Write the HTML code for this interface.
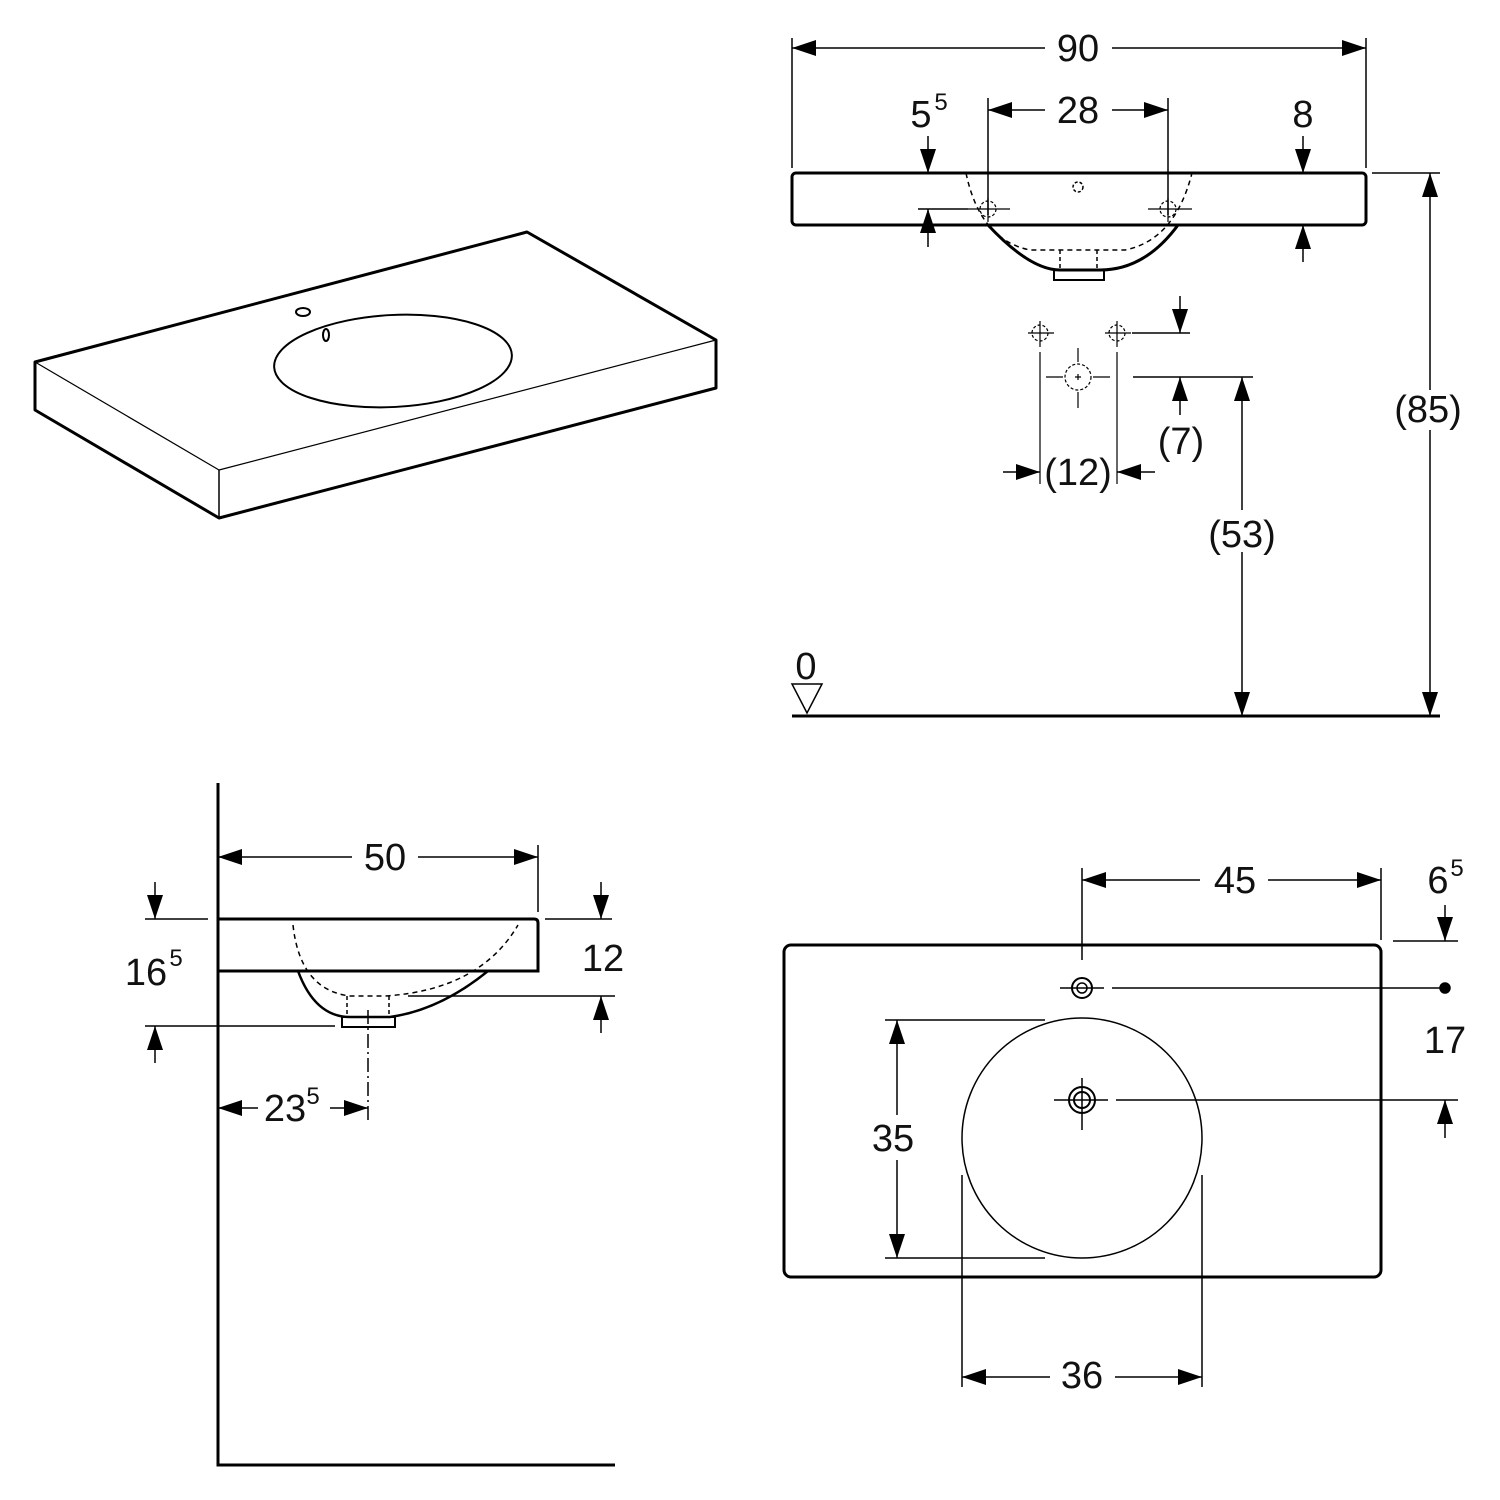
<!DOCTYPE html>
<html><head><meta charset="utf-8"><style>
html,body{margin:0;padding:0;background:#fff}
svg{display:block}
text{font-family:"Liberation Sans",sans-serif;font-size:38px;fill:#111;stroke:none;text-anchor:middle}
.sup{font-size:24px}
</style></head><body>
<svg width="1500" height="1500" viewBox="0 0 1500 1500" xmlns="http://www.w3.org/2000/svg">
<defs>
<marker id="a" markerUnits="userSpaceOnUse" markerWidth="24" markerHeight="16" refX="24" refY="8" orient="auto"><path d="M0,0 L24,8 L0,16 z" fill="#000" stroke="none"/></marker>
</defs>
<g stroke="#000" fill="none" stroke-width="1.5">

<!-- ISOMETRIC -->
<g stroke-width="3" stroke-linejoin="round">
<path d="M35,362 L527,232 L716,340 L716,388 L219,518 L35,410 Z" fill="#fff"/>
<path d="M219,470 L219,518" stroke-width="1.5"/>
<path d="M35,362 L219,470 L716,340" stroke-width="1.2"/>
<ellipse cx="393" cy="361" rx="119" ry="46" transform="rotate(-3 393 361)" stroke-width="2"/>
<ellipse cx="303" cy="312" rx="7" ry="4" stroke-width="2"/>
<ellipse cx="326" cy="335" rx="3" ry="6" stroke-width="2"/>
</g>

<!-- FRONT VIEW -->
<rect x="792" y="173" width="574" height="52" rx="4" stroke-width="3"/>
<path d="M988,225 Q1030,270 1060,270 L1100,270 Q1145,270 1178,225" stroke-width="3"/>
<rect x="1054" y="270" width="50" height="10" stroke-width="2"/>
<path d="M966,173 Q980,240 1030,250 L1125,250 Q1175,240 1192,173" stroke-dasharray="5,4"/>
<path d="M1060,250 L1060,270 M1097,250 L1097,270" stroke-dasharray="4,3"/>
<circle cx="1078" cy="187" r="5" stroke-dasharray="3,2"/>
<path d="M792,38 L792,168 M1366,38 L1366,168"/>
<path d="M1045,48 L792,48" marker-end="url(#a)"/><path d="M1112,48 L1366,48" marker-end="url(#a)"/>
<text x="1078" y="61">90</text>
<path d="M988,98 L988,215 M1168,98 L1168,215"/>
<path d="M1045,110 L988,110" marker-end="url(#a)"/><path d="M1112,110 L1168,110" marker-end="url(#a)"/>
<text x="1078" y="123">28</text>
<g stroke-width="1.2">
<path d="M968,209 L1010,209 M988,198 L988,222 M1148,209 L1192,209 M1168,198 L1168,222"/>
<circle cx="988" cy="209" r="8" stroke-dasharray="3,2"/><circle cx="1168" cy="209" r="8" stroke-dasharray="3,2"/>
</g>
<text x="921" y="127">5</text><text class="sup" x="941" y="110">5</text>
<path d="M928,136 L928,173" marker-end="url(#a)"/>
<path d="M928,247 L928,209" marker-end="url(#a)"/>
<path d="M918,209 L968,209"/>
<text x="1303" y="127">8</text>
<path d="M1303,136 L1303,173" marker-end="url(#a)"/>
<path d="M1303,262 L1303,225" marker-end="url(#a)"/>
<g stroke-width="1.2">
<path d="M1028,333 L1054,333 M1040,321 L1040,347 M1105,333 L1131,333 M1117,321 L1117,347"/>
<circle cx="1040" cy="333" r="8" stroke-dasharray="3,2"/><circle cx="1117" cy="333" r="8" stroke-dasharray="3,2"/>
<circle cx="1078" cy="377" r="13" stroke-dasharray="3,2"/>
<path d="M1078,348 L1078,362 M1078,392 L1078,408 M1046,377 L1063,377 M1093,377 L1110,377 M1075,377 L1081,377 M1078,374 L1078,380"/>
<path d="M1040,352 L1040,484 M1117,352 L1117,484"/>
</g>
<path d="M1180,296 L1180,333" marker-end="url(#a)"/>
<path d="M1132,333 L1190,333"/>
<path d="M1133,377 L1253,377"/>
<path d="M1180,415 L1180,377" marker-end="url(#a)"/>
<text x="1181" y="454">(7)</text>
<path d="M1003,472 L1040,472" marker-end="url(#a)"/>
<path d="M1155,472 L1117,472" marker-end="url(#a)"/>
<text x="1078" y="485">(12)</text>
<path d="M1242,510 L1242,377" marker-end="url(#a)"/>
<path d="M1242,552 L1242,716" marker-end="url(#a)"/>
<text x="1242" y="547">(53)</text>
<path d="M1372,173 L1440,173"/>
<path d="M1430,390 L1430,173" marker-end="url(#a)"/>
<path d="M1430,430 L1430,716" marker-end="url(#a)"/>
<text x="1428" y="422">(85)</text>
<path d="M792,716 L1440,716" stroke-width="3"/>
<text x="806" y="679">0</text>
<path d="M792,684 L822,684 L807,713 Z"/>

<!-- SIDE VIEW -->
<path d="M218,783 L218,1465 L615,1465" stroke-width="3"/>
<path d="M218,919 L534,919 Q538,919 538,923 L538,971 L218,971" stroke-width="3"/>
<path d="M298,971 Q315,1017 350,1017 L390,1017 Q440,1010 488,971" stroke-width="2.5"/>
<rect x="342" y="1017" width="53" height="10" stroke-width="2"/>
<path d="M293,925 Q300,990 350,996 L385,996 Q480,990 518,925" stroke-dasharray="5,4"/>
<path d="M347,996 L347,1017 M389,996 L389,1017" stroke-dasharray="4,3"/>
<path d="M368,1010 L368,1120" stroke-dasharray="14,4,2,4"/>
<path d="M538,845 L538,912"/>
<path d="M352,857 L218,857" marker-end="url(#a)"/><path d="M418,857 L538,857" marker-end="url(#a)"/>
<text x="385" y="870">50</text>
<path d="M145,919 L208,919 M145,1026 L335,1026"/>
<path d="M155,882 L155,919" marker-end="url(#a)"/>
<path d="M155,1063 L155,1026" marker-end="url(#a)"/>
<text x="146" y="985">16</text><text class="sup" x="176" y="966">5</text>
<path d="M545,919 L612,919 M408,996 L615,996"/>
<path d="M601,882 L601,919" marker-end="url(#a)"/>
<path d="M601,1033 L601,996" marker-end="url(#a)"/>
<text x="603" y="971">12</text>
<path d="M258,1108 L218,1108" marker-end="url(#a)"/><path d="M330,1108 L368,1108" marker-end="url(#a)"/>
<text x="285" y="1121">23</text><text class="sup" x="313" y="1104">5</text>

<!-- PLAN VIEW -->
<rect x="784" y="945" width="597" height="332" rx="7" stroke-width="3"/>
<circle cx="1082" cy="988" r="10" stroke-width="2"/><circle cx="1082" cy="988" r="5"/>
<path d="M1060,988 L1104,988 M1112,988 L1445,988"/>
<circle cx="1445" cy="988" r="5" fill="#000"/>
<circle cx="1082" cy="1138" r="120" stroke-width="1.5"/>
<circle cx="1082" cy="1100" r="13" stroke-width="2"/><circle cx="1082" cy="1100" r="8" stroke-width="2"/>
<path d="M1054,1100 L1108,1100 M1082,1078 L1082,1130 M1116,1100 L1458,1100"/>
<path d="M1082,868 L1082,960 M1381,868 L1381,940"/>
<path d="M1200,880 L1082,880" marker-end="url(#a)"/><path d="M1268,880 L1381,880" marker-end="url(#a)"/>
<text x="1235" y="893">45</text>
<text x="1438" y="893">6</text><text class="sup" x="1457" y="876">5</text>
<path d="M1445,905 L1445,941" marker-end="url(#a)"/>
<path d="M1393,941 L1458,941"/>
<text x="1445" y="1053">17</text>
<path d="M1445,1138 L1445,1100" marker-end="url(#a)"/>
<path d="M885,1020 L1045,1020 M885,1258 L1045,1258"/>
<path d="M897,1115 L897,1020" marker-end="url(#a)"/><path d="M897,1160 L897,1258" marker-end="url(#a)"/>
<text x="893" y="1151">35</text>
<path d="M962,1175 L962,1387 M1202,1175 L1202,1387"/>
<path d="M1050,1377 L962,1377" marker-end="url(#a)"/><path d="M1115,1377 L1202,1377" marker-end="url(#a)"/>
<text x="1082" y="1388">36</text>
</g>
</svg>
</body></html>
